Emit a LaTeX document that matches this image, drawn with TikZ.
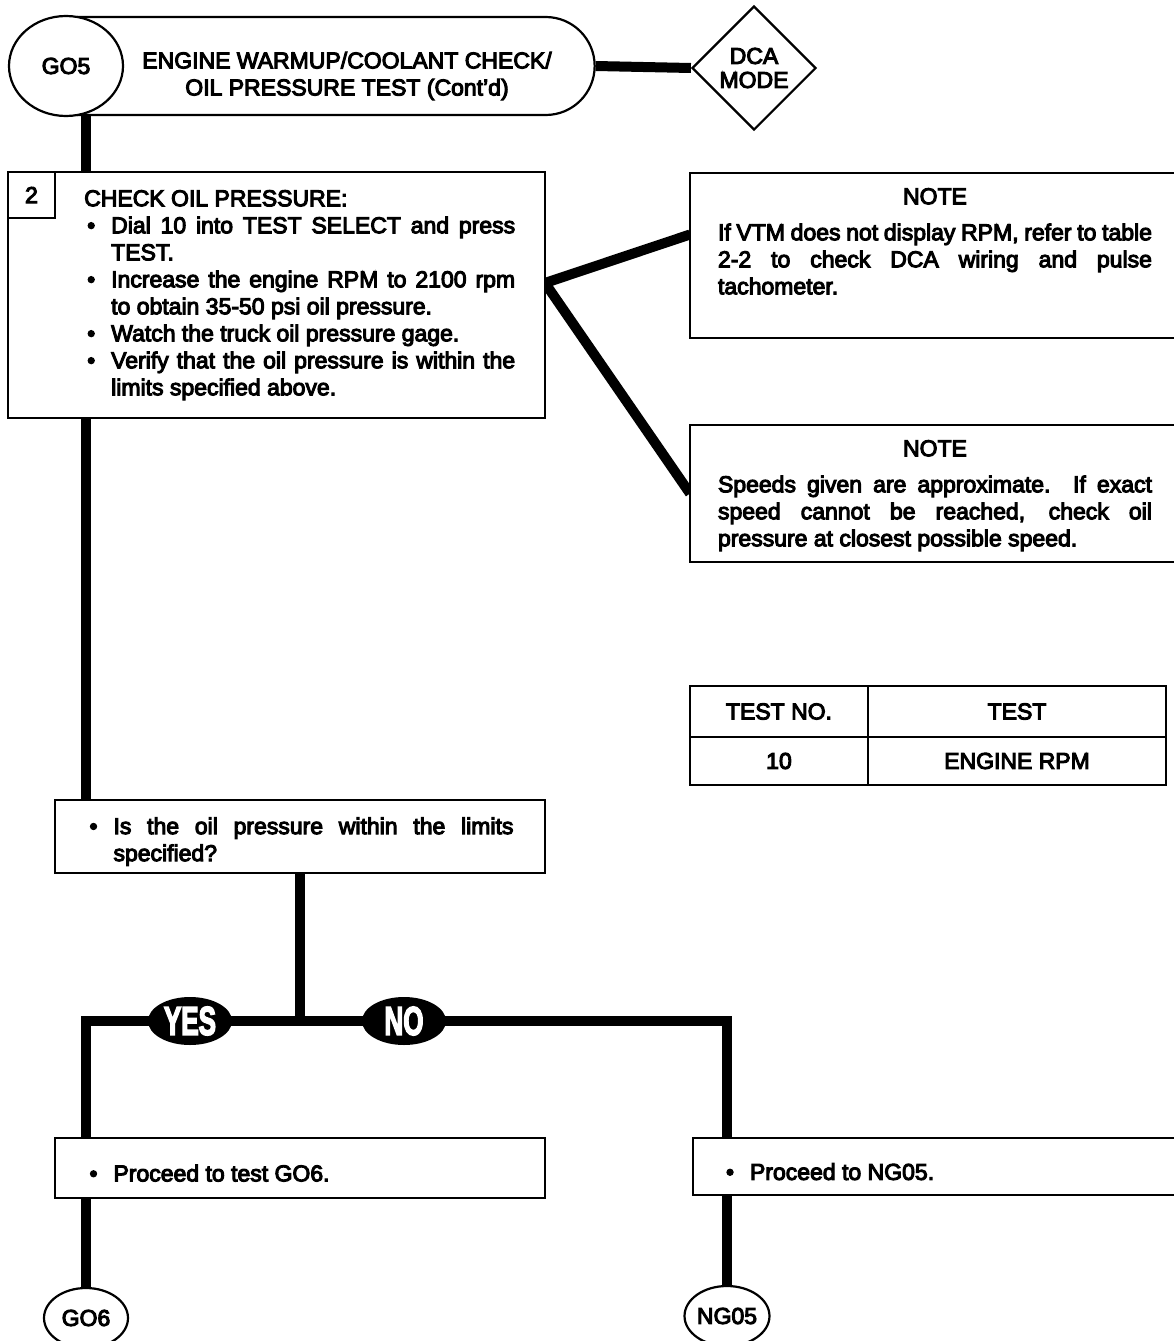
\documentclass[tikz,border=0pt]{standalone}
\usepackage{fontspec}
\setmainfont{Liberation Sans}[FakeBold=4.5]
\usepackage{graphicx}
\usetikzlibrary{positioning,shapes.geometric,shapes.misc,backgrounds}
\newcommand{\bitem}[1]{\par\hangindent=27pt\hangafter=1\noindent\makebox[27pt][l]{\hspace{3pt}\textbullet}#1\par}
\newcommand{\notehead}{\makebox[\linewidth]{NOTE}\par\vspace{9pt}\noindent}
\tikzset{
  basefont/.style={font=\fontsize{23}{27}\selectfont},
  tbox/.style={draw=black, line width=2.2pt, fill=white, inner sep=0pt, outer sep=0pt, basefont},
  txt/.style={inner sep=0pt, align=justify, basefont},
  term/.style={ellipse, draw=black, line width=2.2pt, fill=white, inner sep=0pt, basefont},
  cell/.style={tbox, minimum height=50pt},
  yn/.style={ellipse, fill=black, text=white, minimum width=84pt, minimum height=48pt, inner sep=0pt, font=\fontsize{40}{40}\selectfont\bfseries},
  flow/.style={line width=10pt}
}
\begin{document}
\begin{tikzpicture}[x=1pt,y=-1pt]
\useasboundingbox (0,0) rectangle (1174,1341);
\node[rounded rectangle, rounded rectangle west arc=none, draw=black, line width=2.2pt, fill=white, minimum width=523pt, minimum height=98pt] (title) at (336.5,66) {};
\node[txt, align=center] (titletxt) at (347,76) {ENGINE WARMUP/COOLANT CHECK/\\OIL PRESSURE TEST (Cont'd)};
\node[term, minimum width=114pt, minimum height=100pt] (go5) at (66,66) {GO5};
\node[diamond, draw=black, line width=2.2pt, fill=white, minimum width=124pt, minimum height=124pt, inner sep=0pt, align=center, font=\fontsize{23}{24}\selectfont] (dca) at (754,68) {DCA\\MODE};

\node[tbox, minimum width=537pt, minimum height=246pt] (step) at (276.5,295) {};
\node[tbox, minimum width=47pt, minimum height=46pt, anchor=north west] (stepno) at (step.north west) {2};
\node[txt, text width=431pt, below right=18pt and 76pt of step.north west] (steptxt) {\noindent CHECK OIL PRESSURE:
  \bitem{Dial 10 into TEST SELECT and press\linebreak TEST.}
  \bitem{Increase the engine RPM to 2100 rpm\linebreak to obtain 35-50 psi oil pressure.}
  \bitem{Watch the truck oil pressure gage.}
  \bitem{Verify that the oil pressure is within the\linebreak limits specified above.}};

\node[tbox, minimum width=490pt, minimum height=165pt] (note1) at (935,255.5) {};
\node[txt, text width=434pt, below=15pt of note1.north] (note1txt) {\notehead If VTM does not display RPM, refer to table\linebreak 2-2 to check DCA wiring and pulse\linebreak tachometer.};
\node[tbox, minimum width=490pt, minimum height=137pt] (note2) at (935,493.5) {};
\node[txt, text width=434pt, below=15pt of note2.north] (note2txt) {\notehead Speeds given are approximate. If exact\linebreak speed cannot be reached, check oil\linebreak pressure at closest possible speed.};

\node[cell, minimum width=178pt, minimum height=51pt, anchor=north west] (thno) at (690,686) {TEST NO.};
\node[cell, minimum width=298pt, minimum height=51pt, right=0pt of thno] (thname) {TEST};
\node[cell, minimum width=178pt, minimum height=48pt, below=0pt of thno] (tdno) {10};
\node[cell, minimum width=298pt, minimum height=48pt, right=0pt of tdno] (tdname) {ENGINE RPM};

\node[tbox, minimum width=490pt, minimum height=73pt, text width=427pt, align=justify] (dec) at (300,836.5) {\bitem{Is the oil pressure within the limits\linebreak specified?}};
\coordinate (ybr) at (86,1021);
\coordinate (nbr) at (727,1021);
\node[yn] (yes) at (190,1021) {\scalebox{0.65}[1]{YES}};
\node[yn] (no) at (404,1021) {\scalebox{0.65}[1]{NO}};

\node[tbox, minimum width=490pt, minimum height=60pt, text width=427pt, align=justify] (go6box) at (300,1168) {\bitem{Proceed to test GO6.}};
\node[tbox, minimum width=487pt, minimum height=57pt, text width=427pt, align=justify] (ng05box) at (936.5,1166.5) {\bitem{Proceed to NG05.}};
\node[term, minimum width=84pt, minimum height=60pt] (go6) at (86,1318) {GO6};
\node[term, minimum width=84pt, minimum height=60pt] (ng05) at (727,1316) {NG05};

\begin{scope}[on background layer]
\draw[flow] (title.east) -- (dca.west);
\draw[flow] (ybr |- go5.center) -- (ybr |- step.north);
\draw[flow] (ybr |- step.south) -- (ybr |- dec.north);
\coordinate (fork) at ([yshift=12pt]step.east);
\draw[flow] ([yshift=21pt]note1.west) -- (fork) -- (note2.west);
\draw[flow] (dec.south) -- (dec.south |- ybr);
\draw[flow] (ybr |- go6box.north) -- (ybr) -- (nbr) -- (nbr |- ng05box.north);
\draw[flow] (ybr |- go6box.south) -- (go6);
\draw[flow] (nbr |- ng05box.south) -- (ng05);
\end{scope}
\end{tikzpicture}
\end{document}
